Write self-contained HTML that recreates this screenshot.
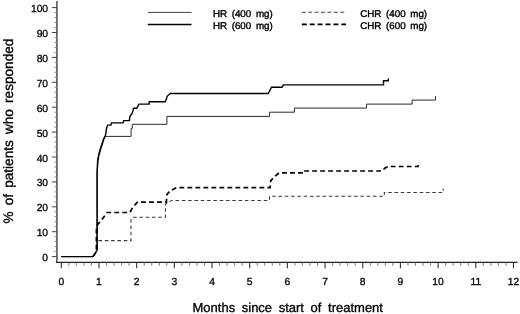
<!DOCTYPE html>
<html><head><meta charset="utf-8"><style>
html,body{margin:0;padding:0;background:#fff;}
svg{display:block;filter:blur(0.3px);}
text{font-family:"Liberation Sans",sans-serif;fill:#000;text-rendering:geometricPrecision;}
.tl{font-size:10.3px;stroke:#000;stroke-width:0.3px;}
.tt{font-size:13px;stroke:#000;stroke-width:0.33px;}
.lg{font-size:9.8px;stroke:#000;stroke-width:0.38px;}
</style></head><body>
<svg width="520" height="314" viewBox="0 0 520 314">
<rect width="520" height="314" fill="#fff"/>
<line x1="56.9" y1="1" x2="56.9" y2="263.0" stroke="#505050" stroke-width="1.55"/>
<line x1="56.1" y1="262.3" x2="517.5" y2="262.3" stroke="#222" stroke-width="1.3"/>
<line x1="51.9" y1="256.60" x2="56.9" y2="256.60" stroke="#444" stroke-width="1.0"/>
<line x1="54.3" y1="251.62" x2="56.9" y2="251.62" stroke="#888" stroke-width="0.9"/>
<line x1="54.3" y1="246.64" x2="56.9" y2="246.64" stroke="#888" stroke-width="0.9"/>
<line x1="54.3" y1="241.66" x2="56.9" y2="241.66" stroke="#888" stroke-width="0.9"/>
<line x1="54.3" y1="236.68" x2="56.9" y2="236.68" stroke="#888" stroke-width="0.9"/>
<line x1="51.9" y1="231.70" x2="56.9" y2="231.70" stroke="#444" stroke-width="1.0"/>
<line x1="54.3" y1="226.72" x2="56.9" y2="226.72" stroke="#888" stroke-width="0.9"/>
<line x1="54.3" y1="221.74" x2="56.9" y2="221.74" stroke="#888" stroke-width="0.9"/>
<line x1="54.3" y1="216.76" x2="56.9" y2="216.76" stroke="#888" stroke-width="0.9"/>
<line x1="54.3" y1="211.78" x2="56.9" y2="211.78" stroke="#888" stroke-width="0.9"/>
<line x1="51.9" y1="206.80" x2="56.9" y2="206.80" stroke="#444" stroke-width="1.0"/>
<line x1="54.3" y1="201.82" x2="56.9" y2="201.82" stroke="#888" stroke-width="0.9"/>
<line x1="54.3" y1="196.84" x2="56.9" y2="196.84" stroke="#888" stroke-width="0.9"/>
<line x1="54.3" y1="191.86" x2="56.9" y2="191.86" stroke="#888" stroke-width="0.9"/>
<line x1="54.3" y1="186.88" x2="56.9" y2="186.88" stroke="#888" stroke-width="0.9"/>
<line x1="51.9" y1="181.90" x2="56.9" y2="181.90" stroke="#444" stroke-width="1.0"/>
<line x1="54.3" y1="176.92" x2="56.9" y2="176.92" stroke="#888" stroke-width="0.9"/>
<line x1="54.3" y1="171.94" x2="56.9" y2="171.94" stroke="#888" stroke-width="0.9"/>
<line x1="54.3" y1="166.96" x2="56.9" y2="166.96" stroke="#888" stroke-width="0.9"/>
<line x1="54.3" y1="161.98" x2="56.9" y2="161.98" stroke="#888" stroke-width="0.9"/>
<line x1="51.9" y1="157.00" x2="56.9" y2="157.00" stroke="#444" stroke-width="1.0"/>
<line x1="54.3" y1="152.02" x2="56.9" y2="152.02" stroke="#888" stroke-width="0.9"/>
<line x1="54.3" y1="147.04" x2="56.9" y2="147.04" stroke="#888" stroke-width="0.9"/>
<line x1="54.3" y1="142.06" x2="56.9" y2="142.06" stroke="#888" stroke-width="0.9"/>
<line x1="54.3" y1="137.08" x2="56.9" y2="137.08" stroke="#888" stroke-width="0.9"/>
<line x1="51.9" y1="132.10" x2="56.9" y2="132.10" stroke="#444" stroke-width="1.0"/>
<line x1="54.3" y1="127.12" x2="56.9" y2="127.12" stroke="#888" stroke-width="0.9"/>
<line x1="54.3" y1="122.14" x2="56.9" y2="122.14" stroke="#888" stroke-width="0.9"/>
<line x1="54.3" y1="117.16" x2="56.9" y2="117.16" stroke="#888" stroke-width="0.9"/>
<line x1="54.3" y1="112.18" x2="56.9" y2="112.18" stroke="#888" stroke-width="0.9"/>
<line x1="51.9" y1="107.20" x2="56.9" y2="107.20" stroke="#444" stroke-width="1.0"/>
<line x1="54.3" y1="102.22" x2="56.9" y2="102.22" stroke="#888" stroke-width="0.9"/>
<line x1="54.3" y1="97.24" x2="56.9" y2="97.24" stroke="#888" stroke-width="0.9"/>
<line x1="54.3" y1="92.26" x2="56.9" y2="92.26" stroke="#888" stroke-width="0.9"/>
<line x1="54.3" y1="87.28" x2="56.9" y2="87.28" stroke="#888" stroke-width="0.9"/>
<line x1="51.9" y1="82.30" x2="56.9" y2="82.30" stroke="#444" stroke-width="1.0"/>
<line x1="54.3" y1="77.32" x2="56.9" y2="77.32" stroke="#888" stroke-width="0.9"/>
<line x1="54.3" y1="72.34" x2="56.9" y2="72.34" stroke="#888" stroke-width="0.9"/>
<line x1="54.3" y1="67.36" x2="56.9" y2="67.36" stroke="#888" stroke-width="0.9"/>
<line x1="54.3" y1="62.38" x2="56.9" y2="62.38" stroke="#888" stroke-width="0.9"/>
<line x1="51.9" y1="57.40" x2="56.9" y2="57.40" stroke="#444" stroke-width="1.0"/>
<line x1="54.3" y1="52.42" x2="56.9" y2="52.42" stroke="#888" stroke-width="0.9"/>
<line x1="54.3" y1="47.44" x2="56.9" y2="47.44" stroke="#888" stroke-width="0.9"/>
<line x1="54.3" y1="42.46" x2="56.9" y2="42.46" stroke="#888" stroke-width="0.9"/>
<line x1="54.3" y1="37.48" x2="56.9" y2="37.48" stroke="#888" stroke-width="0.9"/>
<line x1="51.9" y1="32.50" x2="56.9" y2="32.50" stroke="#444" stroke-width="1.0"/>
<line x1="54.3" y1="27.52" x2="56.9" y2="27.52" stroke="#888" stroke-width="0.9"/>
<line x1="54.3" y1="22.54" x2="56.9" y2="22.54" stroke="#888" stroke-width="0.9"/>
<line x1="54.3" y1="17.56" x2="56.9" y2="17.56" stroke="#888" stroke-width="0.9"/>
<line x1="54.3" y1="12.58" x2="56.9" y2="12.58" stroke="#888" stroke-width="0.9"/>
<line x1="51.9" y1="7.60" x2="56.9" y2="7.60" stroke="#444" stroke-width="1.0"/>
<line x1="61.30" y1="262.3" x2="61.30" y2="268.3" stroke="#333" stroke-width="1.1"/>
<line x1="68.84" y1="262.3" x2="68.84" y2="265.7" stroke="#666" stroke-width="0.9"/>
<line x1="76.37" y1="262.3" x2="76.37" y2="265.7" stroke="#666" stroke-width="0.9"/>
<line x1="83.91" y1="262.3" x2="83.91" y2="265.7" stroke="#666" stroke-width="0.9"/>
<line x1="91.44" y1="262.3" x2="91.44" y2="265.7" stroke="#666" stroke-width="0.9"/>
<line x1="98.98" y1="262.3" x2="98.98" y2="268.3" stroke="#333" stroke-width="1.1"/>
<line x1="106.52" y1="262.3" x2="106.52" y2="265.7" stroke="#666" stroke-width="0.9"/>
<line x1="114.05" y1="262.3" x2="114.05" y2="265.7" stroke="#666" stroke-width="0.9"/>
<line x1="121.59" y1="262.3" x2="121.59" y2="265.7" stroke="#666" stroke-width="0.9"/>
<line x1="129.12" y1="262.3" x2="129.12" y2="265.7" stroke="#666" stroke-width="0.9"/>
<line x1="136.66" y1="262.3" x2="136.66" y2="268.3" stroke="#333" stroke-width="1.1"/>
<line x1="144.20" y1="262.3" x2="144.20" y2="265.7" stroke="#666" stroke-width="0.9"/>
<line x1="151.73" y1="262.3" x2="151.73" y2="265.7" stroke="#666" stroke-width="0.9"/>
<line x1="159.27" y1="262.3" x2="159.27" y2="265.7" stroke="#666" stroke-width="0.9"/>
<line x1="166.80" y1="262.3" x2="166.80" y2="265.7" stroke="#666" stroke-width="0.9"/>
<line x1="174.34" y1="262.3" x2="174.34" y2="268.3" stroke="#333" stroke-width="1.1"/>
<line x1="181.88" y1="262.3" x2="181.88" y2="265.7" stroke="#666" stroke-width="0.9"/>
<line x1="189.41" y1="262.3" x2="189.41" y2="265.7" stroke="#666" stroke-width="0.9"/>
<line x1="196.95" y1="262.3" x2="196.95" y2="265.7" stroke="#666" stroke-width="0.9"/>
<line x1="204.48" y1="262.3" x2="204.48" y2="265.7" stroke="#666" stroke-width="0.9"/>
<line x1="212.02" y1="262.3" x2="212.02" y2="268.3" stroke="#333" stroke-width="1.1"/>
<line x1="219.56" y1="262.3" x2="219.56" y2="265.7" stroke="#666" stroke-width="0.9"/>
<line x1="227.09" y1="262.3" x2="227.09" y2="265.7" stroke="#666" stroke-width="0.9"/>
<line x1="234.63" y1="262.3" x2="234.63" y2="265.7" stroke="#666" stroke-width="0.9"/>
<line x1="242.16" y1="262.3" x2="242.16" y2="265.7" stroke="#666" stroke-width="0.9"/>
<line x1="249.70" y1="262.3" x2="249.70" y2="268.3" stroke="#333" stroke-width="1.1"/>
<line x1="257.24" y1="262.3" x2="257.24" y2="265.7" stroke="#666" stroke-width="0.9"/>
<line x1="264.77" y1="262.3" x2="264.77" y2="265.7" stroke="#666" stroke-width="0.9"/>
<line x1="272.31" y1="262.3" x2="272.31" y2="265.7" stroke="#666" stroke-width="0.9"/>
<line x1="279.84" y1="262.3" x2="279.84" y2="265.7" stroke="#666" stroke-width="0.9"/>
<line x1="287.38" y1="262.3" x2="287.38" y2="268.3" stroke="#333" stroke-width="1.1"/>
<line x1="294.92" y1="262.3" x2="294.92" y2="265.7" stroke="#666" stroke-width="0.9"/>
<line x1="302.45" y1="262.3" x2="302.45" y2="265.7" stroke="#666" stroke-width="0.9"/>
<line x1="309.99" y1="262.3" x2="309.99" y2="265.7" stroke="#666" stroke-width="0.9"/>
<line x1="317.52" y1="262.3" x2="317.52" y2="265.7" stroke="#666" stroke-width="0.9"/>
<line x1="325.06" y1="262.3" x2="325.06" y2="268.3" stroke="#333" stroke-width="1.1"/>
<line x1="332.60" y1="262.3" x2="332.60" y2="265.7" stroke="#666" stroke-width="0.9"/>
<line x1="340.13" y1="262.3" x2="340.13" y2="265.7" stroke="#666" stroke-width="0.9"/>
<line x1="347.67" y1="262.3" x2="347.67" y2="265.7" stroke="#666" stroke-width="0.9"/>
<line x1="355.20" y1="262.3" x2="355.20" y2="265.7" stroke="#666" stroke-width="0.9"/>
<line x1="362.74" y1="262.3" x2="362.74" y2="268.3" stroke="#333" stroke-width="1.1"/>
<line x1="370.28" y1="262.3" x2="370.28" y2="265.7" stroke="#666" stroke-width="0.9"/>
<line x1="377.81" y1="262.3" x2="377.81" y2="265.7" stroke="#666" stroke-width="0.9"/>
<line x1="385.35" y1="262.3" x2="385.35" y2="265.7" stroke="#666" stroke-width="0.9"/>
<line x1="392.88" y1="262.3" x2="392.88" y2="265.7" stroke="#666" stroke-width="0.9"/>
<line x1="400.42" y1="262.3" x2="400.42" y2="268.3" stroke="#333" stroke-width="1.1"/>
<line x1="407.96" y1="262.3" x2="407.96" y2="265.7" stroke="#666" stroke-width="0.9"/>
<line x1="415.49" y1="262.3" x2="415.49" y2="265.7" stroke="#666" stroke-width="0.9"/>
<line x1="423.03" y1="262.3" x2="423.03" y2="265.7" stroke="#666" stroke-width="0.9"/>
<line x1="430.56" y1="262.3" x2="430.56" y2="265.7" stroke="#666" stroke-width="0.9"/>
<line x1="438.10" y1="262.3" x2="438.10" y2="268.3" stroke="#333" stroke-width="1.1"/>
<line x1="445.64" y1="262.3" x2="445.64" y2="265.7" stroke="#666" stroke-width="0.9"/>
<line x1="453.17" y1="262.3" x2="453.17" y2="265.7" stroke="#666" stroke-width="0.9"/>
<line x1="460.71" y1="262.3" x2="460.71" y2="265.7" stroke="#666" stroke-width="0.9"/>
<line x1="468.24" y1="262.3" x2="468.24" y2="265.7" stroke="#666" stroke-width="0.9"/>
<line x1="475.78" y1="262.3" x2="475.78" y2="268.3" stroke="#333" stroke-width="1.1"/>
<line x1="483.32" y1="262.3" x2="483.32" y2="265.7" stroke="#666" stroke-width="0.9"/>
<line x1="490.85" y1="262.3" x2="490.85" y2="265.7" stroke="#666" stroke-width="0.9"/>
<line x1="498.39" y1="262.3" x2="498.39" y2="265.7" stroke="#666" stroke-width="0.9"/>
<line x1="505.92" y1="262.3" x2="505.92" y2="265.7" stroke="#666" stroke-width="0.9"/>
<line x1="513.46" y1="262.3" x2="513.46" y2="268.3" stroke="#333" stroke-width="1.1"/>
<text x="48.1" y="261.10" text-anchor="end" class="tl">0</text>
<text x="48.1" y="236.20" text-anchor="end" class="tl">10</text>
<text x="48.1" y="211.30" text-anchor="end" class="tl">20</text>
<text x="48.1" y="186.40" text-anchor="end" class="tl">30</text>
<text x="48.1" y="161.50" text-anchor="end" class="tl">40</text>
<text x="48.1" y="136.60" text-anchor="end" class="tl">50</text>
<text x="48.1" y="111.70" text-anchor="end" class="tl">60</text>
<text x="48.1" y="86.80" text-anchor="end" class="tl">70</text>
<text x="48.1" y="61.90" text-anchor="end" class="tl">80</text>
<text x="48.1" y="37.00" text-anchor="end" class="tl">90</text>
<text x="48.1" y="12.10" text-anchor="end" class="tl">100</text>
<text x="61.30" y="285.3" text-anchor="middle" class="tl">0</text>
<text x="98.98" y="285.3" text-anchor="middle" class="tl">1</text>
<text x="136.66" y="285.3" text-anchor="middle" class="tl">2</text>
<text x="174.34" y="285.3" text-anchor="middle" class="tl">3</text>
<text x="212.02" y="285.3" text-anchor="middle" class="tl">4</text>
<text x="249.70" y="285.3" text-anchor="middle" class="tl">5</text>
<text x="287.38" y="285.3" text-anchor="middle" class="tl">6</text>
<text x="325.06" y="285.3" text-anchor="middle" class="tl">7</text>
<text x="362.74" y="285.3" text-anchor="middle" class="tl">8</text>
<text x="400.42" y="285.3" text-anchor="middle" class="tl">9</text>
<text x="438.10" y="285.3" text-anchor="middle" class="tl">10</text>
<text x="475.78" y="285.3" text-anchor="middle" class="tl">11</text>
<text x="513.46" y="285.3" text-anchor="middle" class="tl">12</text>
<text x="192.5" y="311.5" class="tt" word-spacing="3">Months since start of treatment</text>
<text transform="translate(12.9,223.6) rotate(-90)" x="0" y="0" class="tt" style="font-size:13.6px" word-spacing="2.4">% of patients who responded</text>
<line x1="147.8" y1="12.4" x2="191.5" y2="12.4" stroke="#444" stroke-width="1"/>
<line x1="147.8" y1="24.5" x2="191.5" y2="24.5" stroke="#000" stroke-width="1.7"/>
<line x1="301.8" y1="12.3" x2="344.5" y2="12.3" stroke="#444" stroke-width="1.1" stroke-dasharray="4 2.4"/>
<line x1="301.8" y1="24.4" x2="346" y2="24.4" stroke="#000" stroke-width="1.8" stroke-dasharray="5 2.9"/>
<text x="212.9" y="17.3" class="lg" word-spacing="1.9">HR (400 mg)</text>
<text x="212.9" y="29.4" class="lg" word-spacing="1.9">HR (600 mg)</text>
<text x="360.2" y="17.3" class="lg" word-spacing="1.9">CHR (400 mg)</text>
<text x="360.2" y="29.4" class="lg" word-spacing="1.9">CHR (600 mg)</text>
<path d="M61.3,256.6 H93 L95.6,252.6 L96.9,250.6 L97.1,249 V172 L97.4,160 L98.4,155 L99.7,150 L101.4,145 L102.9,140 L104.5,136.4 H131.1 V128.4 H132.3 V124.3 H166.9 V116.4 H269.6 V112.2 H294.4 V108.1 H366.6 V104.1 H412.1 V100.1 H435.5 V96.2" fill="none" stroke="#2a2a2a" stroke-width="1"/>
<path d="M61.3,256.6 H93 L95.6,252.6 L96.9,250.6 L97.1,249 V172 L97.7,164 L98.1,160 L99,155 L100.3,150 L102,145 L103.5,140 L105.2,136 L106,133 L106.3,129.5 L107.2,126.3 L107.7,125.1 H110.9 L111.5,122.9 H123 L123.7,120.6 H129.4 L129.8,116.6 L131.9,113.7 L133.1,110.4 L133.5,108.3 H136.8 L137.7,106.3 L138.9,104.1 H149.2 V101.8 H165.2 L166.5,98.8 L167.1,96.3 L168.9,94.8 L170.2,93.5 H268.3 L271.5,87.2 H282 L283.5,84.9 H383.5 V80.7 H388.3 V78.4" fill="none" stroke="#000" stroke-width="1.4"/>
<path d="M93,256.6 L95.6,252.6 L96.5,250 V240.6 H131.0 V219 L133.6,217.3 H165.4 V204 L171.9,200.4 H269.5 V196.2 H384.3 V192.5 H443.2 V188.4" fill="none" stroke="#3a3a3a" stroke-width="1.05" stroke-dasharray="3.6 2.7"/>
<path d="M93,256.6 L95.6,252.6 L96.4,250 V226 L101.9,219.6 L107,212.5 H129.8 L133,207 L137.5,202.2 H166.4 L166.9,194.5 L170,191 L176.4,187.6 H270.1 L270.7,180.9 L273.9,177.1 L279,172.9 H303.5 V171 H381.5 L385,168 L388.6,166.5 H418 V165" fill="none" stroke="#000" stroke-width="1.7" stroke-dasharray="4.8 3.2"/>
</svg>
</body></html>
